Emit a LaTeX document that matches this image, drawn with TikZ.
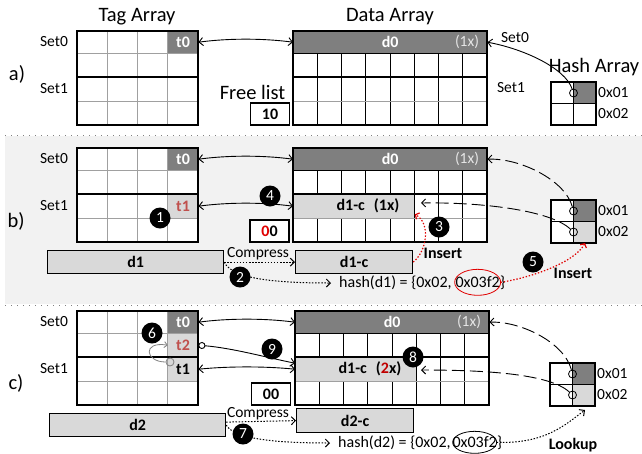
\documentclass[tikz,border=0pt]{standalone}
\usepackage{fontspec}
\setmainfont{Carlito}
\usetikzlibrary{arrows.meta}

\definecolor{darkcell}{HTML}{7F7F7F}
\definecolor{lightcell}{HTML}{D9D9D9}
\definecolor{gridline}{HTML}{A0A0A0}
\definecolor{panelfill}{HTML}{F2F2F2}
\definecolor{markred}{HTML}{E00000}
\definecolor{tagred}{HTML}{C0504D}
\definecolor{countred}{HTML}{C00000}
\definecolor{faintwhite}{HTML}{E6E6E6}

\newcommand\titlefont{\fontsize{20.5}{20.5}\selectfont}
\newcommand\labelfont{\fontsize{15.5}{15.5}\selectfont}
\newcommand\hashfont{\fontsize{16}{16}\selectfont}
\newcommand\cellfont{\fontsize{16}{16}\selectfont\bfseries}

\tikzset{
  frame/.style={line width=1.8pt},
  gridthin/.style={line width=0.8pt, draw=gridline},
  datathin/.style={line width=0.8pt, draw=black},
  cellbox/.style={rectangle, inner sep=0pt, anchor=north west, minimum width=30.25pt, font=\cellfont},
  txt/.style={inner sep=0pt, font=\labelfont},
  numdot/.style={circle, fill=black, text=white, minimum size=21pt, inner sep=0pt, font=\labelfont},
  hashdot/.style={circle, draw=black, line width=0.8pt, minimum size=8pt, inner sep=0pt},
  barb/.style={line width=0.9pt, arrows={-Straight Barb[length=4pt,width=8pt]}},
  twoway/.style={line width=0.9pt, arrows={Straight Barb[length=4pt,width=8pt]-Straight Barb[length=4pt,width=8pt]}},
  hashlink/.style={barb, dash pattern=on 13pt off 5pt},
  dotlink/.style={barb, line width=1pt, dash pattern=on 1.5pt off 1.6pt},
  insertlink/.style={line width=1.2pt, draw=markred, dash pattern=on 1.4pt off 1.8pt,
    arrows={-Straight Barb[length=3pt,width=7pt]}},
  bar/.style={draw, line width=1.2pt, fill=lightcell, inner sep=0pt, anchor=north west, font=\cellfont},
  freebox/.style={draw, line width=1.5pt, fill=white, minimum width=39pt, minimum height=22pt,
    inner sep=0pt, font=\cellfont},
  divider/.style={draw=gray, line width=0.8pt, dash pattern=on 1pt off 5pt},
}

% tag array grid, #1 = top edge
\newcommand\taggrid[1]{%
  \foreach \c in {1,2,3}{\draw[gridthin] ({77+30.25*\c},#1) -- ({77+30.25*\c},#1+94);}
  \foreach \r in {22,70}{\draw[gridthin] (77,#1+\r) -- (198,#1+\r);}
  \draw[frame] (77,#1+46) -- (198,#1+46);
  \draw[frame] (77,#1) rectangle (198,#1+94);
}
% data array grid, #1 = top edge, #2 = left edge, #3 = first column line drawn in row 3
\newcommand\datagrid[3]{%
  \foreach \c in {1,...,7}{%
    \draw[datathin] ({#2+24.25*\c},#1+22) -- ({#2+24.25*\c},#1+46);
    \draw[datathin] ({#2+24.25*\c},#1+70) -- ({#2+24.25*\c},#1+94);}
  \foreach \c in {#3,...,7}{\draw[datathin] ({#2+24.25*\c},#1+46) -- ({#2+24.25*\c},#1+70);}
  \draw[datathin] (#2,#1+22) -- (#2+194,#1+22);
  \draw[gridthin] (#2,#1+70) -- (#2+194,#1+70);
  \draw[frame] (#2,#1+46) -- (#2+194,#1+46);
  \draw[frame] (#2,#1) rectangle (#2+194,#1+94);
}
% hash array grid, #1 = left edge, #2 = top edge
\newcommand\hashgrid[2]{%
  \draw[datathin] (#1+22.5,#2) -- (#1+22.5,#2+43);
  \draw[datathin] (#1,#2+21.5) -- (#1+45,#2+21.5);
  \draw[frame] (#1,#2) rectangle (#1+45,#2+43);
}

\begin{document}
\begin{tikzpicture}[x=1pt, y=-1pt]
\useasboundingbox (0,0) rectangle (642,453);

% ================= panel a =================
\node[txt, font=\titlefont] (ttag) at (137,17) {Tag Array};
\node[txt, font=\titlefont] (tdata) at (390,17) {Data Array};
\node[txt, font=\titlefont] (la) at (17,74) {a)};
\node[txt] (a-s0) at (54,42) {Set0};
\node[txt] (a-s1) at (54,89) {Set1};
\node[cellbox, fill=darkcell, text=white, minimum height=22pt] (a-t0) at (167.75,31) {t0};
\taggrid{31}
\node[cellbox, fill=darkcell, text=white, minimum width=194pt, minimum height=22pt] (a-d0) at (293,31) {d0};
\node[txt, text=faintwhite] (a-x0) at (467,42) {(1x)};
\datagrid{31}{293}{1}
\node[txt, font=\titlefont] (a-fl) at (252.5,92) {Free list};
\node[freebox] (a-fb) at (270,114) {10};
\fill[darkcell] (573.5,82) rectangle (596,103.5);
\hashgrid{551}{82}
\node[hashdot] (a-c1) at (573.5,93) {};
\node[txt, anchor=west] (a-h1) at (598,93) {0x01};
\node[txt, anchor=west] (a-h2) at (598,114) {0x02};
\node[txt, font=\titlefont] (a-ha) at (594,67) {Hash Array};
\node[txt] (a-r0) at (515,38) {Set0};
\node[txt] (a-r1) at (511,88) {Set1};
\draw[twoway] (a-t0.east) .. controls +(30,-4) and +(-30,-4) .. (a-d0.west);
\draw[barb] (a-c1) .. controls (565,68) and (524,49) .. (a-d0.east);

% ================= panel b =================
\fill[panelfill] (5,136) rectangle (642,304);
\draw[divider] (5,135) -- (642,135);
\draw[divider] (5,305) -- (642,305);
\fill[white] (77,148) rectangle (198,242);
\fill[white] (293,148) rectangle (487,242);
\fill[white] (551,200) rectangle (596,243);
\node[txt, font=\titlefont] (lb) at (16,221) {b)};
\node[txt] (b-s0) at (54,159) {Set0};
\node[txt] (b-s1) at (54,206) {Set1};
\node[cellbox, fill=darkcell, text=white, minimum height=22pt] (b-t0) at (167.75,148) {t0};
\node[cellbox, fill=lightcell, text=tagred, minimum height=24pt] (b-t1) at (167.75,194) {t1};
\taggrid{148}
\node[cellbox, fill=darkcell, text=white, minimum width=194pt, minimum height=22pt] (b-d0) at (293,148) {d0};
\node[txt, text=faintwhite] (b-x0) at (467,159) {(1x)};
\node[cellbox, fill=lightcell, minimum width=121.25pt, minimum height=24pt] (b-d1c) at (293,194) {};
\datagrid{148}{293}{5}
\node[txt, font=\cellfont] (b-d1ct) at (368,206) {d1-c\hspace{9pt}(1x)};
\node[freebox] (b-fb) at (269.5,231) {{\color{markred}0}0};
\fill[darkcell] (573.5,200) rectangle (596,221.5);
\fill[lightcell] (573.5,221.5) rectangle (596,243);
\hashgrid{551}{200}
\node[hashdot] (b-c1) at (573.5,211) {};
\node[hashdot] (b-c2) at (573.5,232) {};
\node[txt, anchor=west] (b-h1) at (598,211) {0x01};
\node[txt, anchor=west] (b-h2) at (598,232) {0x02};
\node[bar, minimum width=176pt, minimum height=23pt] (b-d1) at (47,250) {d1};
\node[bar, minimum width=117pt, minimum height=23pt] (b-d1cb) at (295,250) {d1-c};
\node[txt] (b-cmp) at (258,254) {Compress};
\draw[dotlink] (b-d1.east) -- (b-d1cb.west);
\node[txt, font=\hashfont, anchor=west] (b-hs) at (339,283) {hash(d1) = \{0x02,};
\node[txt, font=\hashfont, anchor=base west] (b-hk) at ([xshift=3.5pt]b-hs.base east) {0x03f2};
\node[txt, font=\hashfont, anchor=base west] (b-hc) at (b-hk.base east) {\}};
\draw[markred, line width=0.8pt] (b-hk.center) ellipse [x radius=23, y radius=13];
\coordinate (b-er) at ([xshift=23pt]b-hk.center);
\coordinate (b-hb) at (585,243);
\coordinate (b-tip) at (421,203);
\node[txt, font=\cellfont] (b-ins1) at (443,253) {Insert};
\node[txt, font=\cellfont] (b-ins2) at (573,273) {Insert};
\draw[twoway] (b-t0.east) .. controls +(30,-4) and +(-30,-4) .. (b-d0.west);
\draw[twoway] (b-t1.east) .. controls +(30,-4) and +(-30,-4) .. (b-d1c.west);
\draw[hashlink] (b-c1) .. controls (565,180) and (520,158) .. (b-d0.east);
\draw[hashlink] (b-c2) .. controls (550,210) and (480,202) .. (b-tip);
\draw[dotlink] (b-d1.east) .. controls (232,278) and (270,283) .. ([xshift=-8pt]b-hs.west);
\draw[insertlink] (b-d1cb.east) .. controls (428,250) and (430,222) .. ([yshift=4pt]b-d1c.south east);
\draw[insertlink] (b-er) .. controls +(32,-5) and +(-10,19) .. (b-hb);
\node[numdot] (b-n1) at (160,218) {1};
\node[numdot] (b-n2) at (240,277) {2};
\node[numdot] (b-n3) at (439,227) {3};
\node[numdot] (b-n4) at (270,196) {4};
\node[numdot] (b-n5) at (533,262) {5};

% ================= panel c =================
\node[txt, font=\titlefont] (lc) at (16,383) {c)};
\node[txt] (c-s0) at (54,322) {Set0};
\node[txt] (c-s1) at (54,369) {Set1};
\node[cellbox, fill=darkcell, text=white, minimum height=22pt] (c-t0) at (167.75,311) {t0};
\node[cellbox, fill=lightcell, text=tagred, minimum height=24pt] (c-t2) at (167.75,333) {t2};
\node[cellbox, fill=lightcell, minimum height=24pt] (c-t1) at (167.75,357) {t1};
\taggrid{311}
\node[cellbox, fill=darkcell, text=white, minimum width=194pt, minimum height=22pt] (c-d0) at (295,311) {d0};
\node[txt, text=faintwhite] (c-x0) at (469,322) {(1x)};
\node[cellbox, fill=lightcell, minimum width=121.25pt, minimum height=24pt] (c-d1c) at (295,357) {};
\datagrid{311}{295}{5}
\node[txt, font=\cellfont] (c-d1ct) at (370,369) {d1-c\hspace{9pt}({\color{countred}2}x)};
\node[freebox] (c-fb) at (271,394) {00};
\fill[darkcell] (572.5,363) rectangle (595,384.5);
\fill[lightcell] (572.5,384.5) rectangle (595,406);
\hashgrid{550}{363}
\node[hashdot] (c-c1) at (572.5,374) {};
\node[hashdot] (c-c2) at (572.5,395) {};
\node[txt, anchor=west] (c-h1) at (597,374) {0x01};
\node[txt, anchor=west] (c-h2) at (597,395) {0x02};
\node[bar, minimum width=176pt, minimum height=23pt] (c-d2) at (49,413) {d2};
\node[bar, minimum width=117pt, minimum height=24pt] (c-d2cb) at (296,408) {d2-c};
\node[txt] (c-cmp) at (258,414) {Compress};
\draw[dotlink] ([yshift=3pt]c-d2.east) -- (c-d2cb.west);
\node[txt, font=\hashfont, anchor=west] (c-hs) at (338,443) {hash(d2) = \{0x02,};
\node[txt, font=\hashfont, anchor=base west] (c-hk) at ([xshift=1.5pt]c-hs.base east) {0x03f2};
\node[txt, font=\hashfont, anchor=base west] (c-hc) at (c-hk.base east) {\}};
\draw[line width=0.8pt] (c-hk.center) ellipse [x radius=22, y radius=11];
\coordinate (c-er) at ([xshift=22pt]c-hk.center);
\coordinate (c-hb) at (585,410);
\coordinate (c-tip) at (421,370);
\node[txt, font=\cellfont] (c-lk) at (573,445) {Lookup};
\node[circle, draw=gray, line width=0.8pt, minimum size=8pt, inner sep=0pt] (c-lp) at (170,362) {};
\draw[gray, line width=0.8pt, arrows={-Straight Barb[length=3pt,width=6pt]}]
  (c-lp) .. controls (145,362) and (142,341) .. (c-t2.west);
\draw[twoway] (c-t0.east) .. controls +(30,-4) and +(-30,-4) .. (c-d0.west);
\draw[line width=0.9pt, arrows={Circle[open,length=7pt,width=7pt]-Straight Barb[length=4pt,width=8pt]}]
  (c-t2.east) .. controls +(35,3) and +(-30,-6) .. ([yshift=6pt]c-d1c.west);
\draw[twoway] (c-t1.east) .. controls +(30,-3) and +(-30,-3) .. (c-d1c.west);
\draw[hashlink] (c-c1) .. controls (564,342) and (520,321) .. (c-d0.east);
\draw[hashlink] (c-c2) .. controls (549,373) and (479,370) .. (c-tip);
\draw[dotlink] (c-d2.east) .. controls (234,438) and (270,443) .. ([xshift=-8pt]c-hs.west);
\draw[dotlink] (c-er) .. controls (545,444) and (565,425) .. (c-hb);
\node[numdot] (c-n6) at (152,333) {6};
\node[numdot] (c-n7) at (243,434) {7};
\node[numdot] (c-n8) at (413,357) {8};
\node[numdot] (c-n9) at (272,349) {9};
\end{tikzpicture}
\end{document}
